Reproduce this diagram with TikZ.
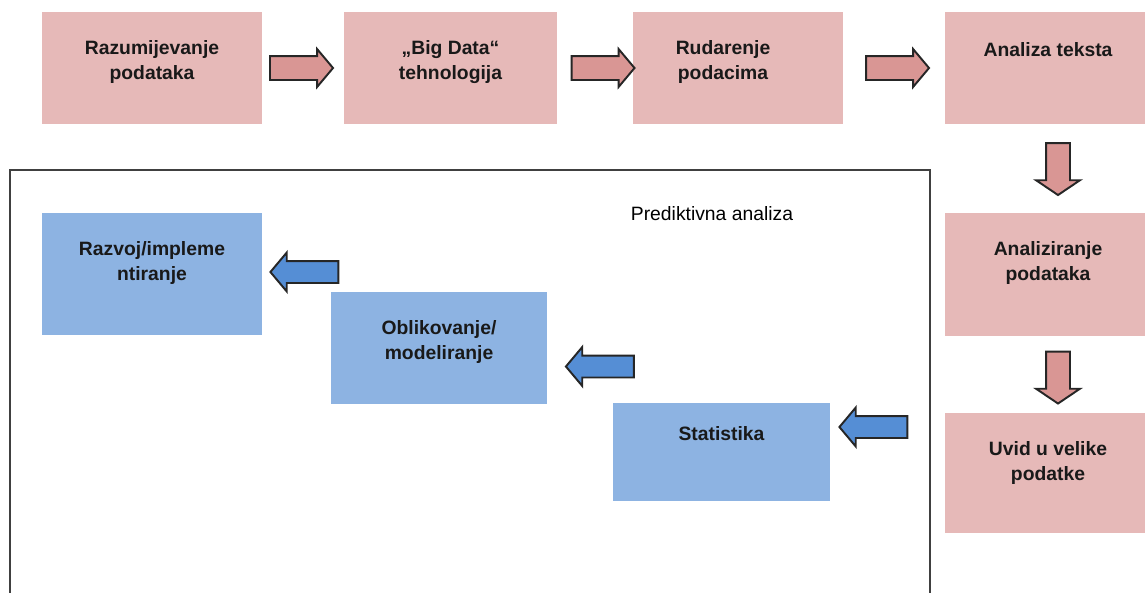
\documentclass[tikz,border=0pt]{standalone}
\usepackage{fontspec}
\setmainfont{Liberation Sans}
\usepackage{xcolor}
\usepackage{tikz}
\usetikzlibrary{shapes.arrows, positioning}
\definecolor{boxpink}{RGB}{230, 185, 184}
\definecolor{arrowpink}{RGB}{217, 150, 148}
\definecolor{boxblue}{RGB}{141, 179, 226}
\definecolor{arrowblue}{RGB}{85, 142, 213}

\begin{document}
\begin{tikzpicture}[
    x=0.02cm, y=-0.02cm,
    box/.style={rectangle, inner sep=0, minimum width=4.4cm, minimum height=2.24cm},
    boxtext/.style={anchor=north, yshift=-0.56cm, inner sep=0, align=center, font=\bfseries\fontsize{11}{14.6}\selectfont, text=black!90},
    pinkarrow/.style={single arrow, draw=black!85, line width=1.1pt, fill=arrowpink, inner sep=0.22cm, single arrow head extend=0.14cm, single arrow tip angle=100, minimum height=1.26cm},
    downarrow/.style={pinkarrow, shape border rotate=270, single arrow head extend=0.2cm, single arrow tip angle=112, minimum height=1.04cm},
    bluearrow/.style={single arrow, draw=black!85, line width=1.1pt, fill=arrowblue, inner sep=0.2cm, single arrow head extend=0.17cm, single arrow tip angle=100, minimum height=1.36cm, shape border rotate=180}
]
    \useasboundingbox (0,0) rectangle (1145,592);

    % Frame for the predictive part
    \draw[black!75, line width=1.1pt] (10,170) rectangle (930,640);
    \node[font=\fontsize{11}{13}\selectfont] (predikt) at (712,214) {Prediktivna analiza};

    % Top row
    \node[box, fill=boxpink, label={[boxtext]north:{Razumijevanje\\podataka}}] (razum) at (152,68) {};
    \node[box, fill=boxpink, minimum width=4.26cm, label={[boxtext]north:{„Big Data“\\tehnologija}}] (bigdata) at (450.5,68) {};
    \node[box, fill=boxpink, minimum width=4.2cm, label={[boxtext, xshift=-0.3cm]north:{Rudarenje\\podacima}}] (rudar) at (738,68) {};
    \node[box, fill=boxpink, minimum width=4.12cm, label={[boxtext, yshift=-0.05cm]north:{Analiza teksta}}] (tekst) at (1048,68) {};

    % Right column
    \node[box, fill=boxpink, minimum width=4.12cm, minimum height=2.46cm, label={[boxtext]north:{Analiziranje\\podataka}}] (analiz) at (1048,274.5) {};
    \node[box, fill=boxpink, minimum width=4.12cm, minimum height=2.4cm, label={[boxtext]north:{Uvid u velike\\podatke}}] (uvid) at (1048,473) {};

    % Predictive steps
    \node[box, fill=boxblue, minimum height=2.44cm, label={[boxtext]north:{Razvoj/impleme\\ntiranje}}] (razvoj) at (152,274) {};
    \node[box, fill=boxblue, minimum width=4.32cm, label={[boxtext]north:{Oblikovanje/\\modeliranje}}] (oblik) at (439,348) {};
    \node[box, fill=boxblue, minimum width=4.34cm, minimum height=1.96cm, label={[boxtext, yshift=0.1cm]north:{Statistika}}] (stat) at (721.5,452) {};

    % Block arrows
    \node[pinkarrow] (r1) at (296.5,68) {};
    \node[pinkarrow] (r2) at (598,68) {};
    \node[pinkarrow] (r3) at (892.5,68) {};
    \node[downarrow] (d1) at (1058,165) {};
    \node[downarrow] (d2) at (1058,373.5) {};
    \node[bluearrow] (b1) at (309,272) {};
    \node[bluearrow] (b2) at (604.5,366.5) {};
    \node[bluearrow] (b3) at (878,427) {};
\end{tikzpicture}
\end{document}
